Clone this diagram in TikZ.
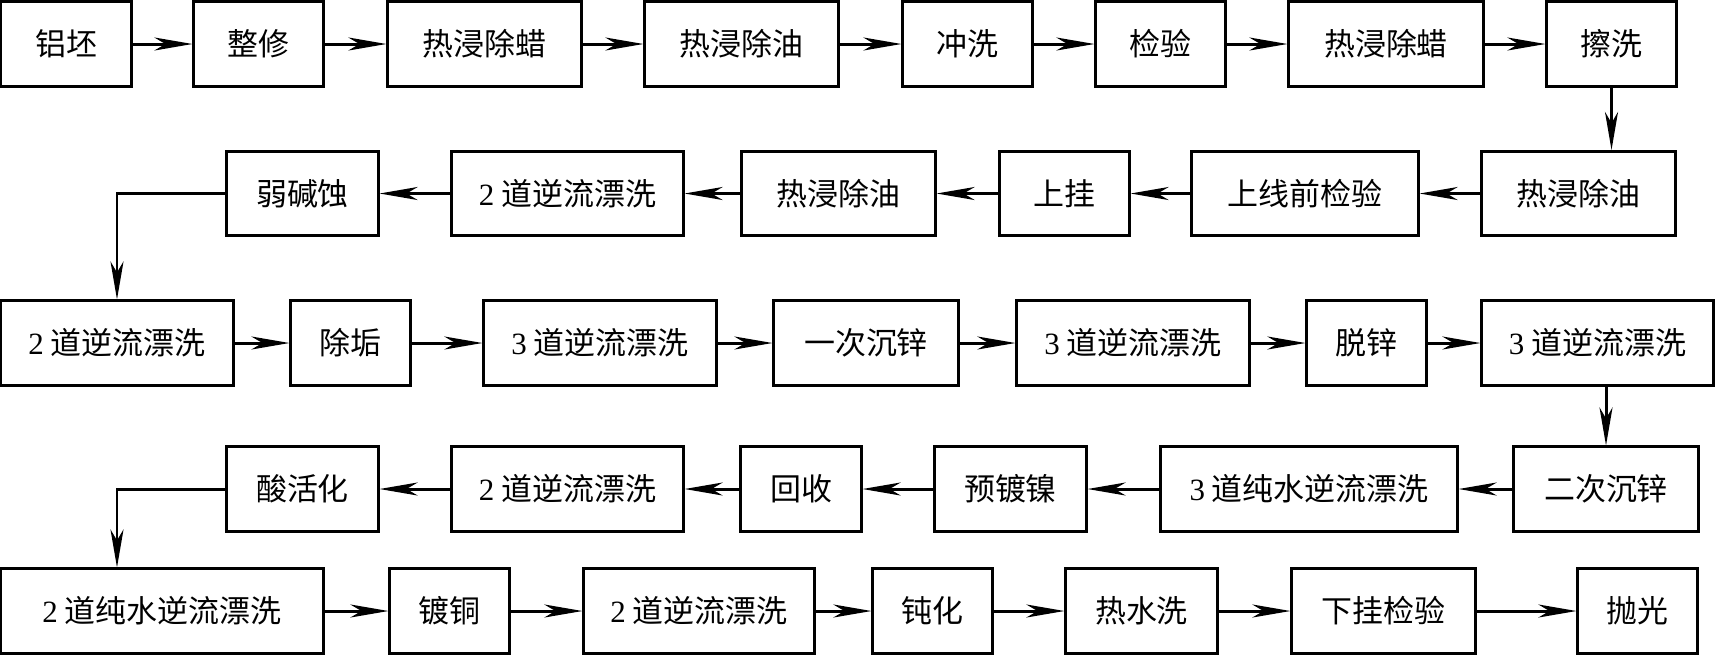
\documentclass[tikz,border=0pt]{standalone}
\usepackage{fontspec}
\setmainfont{Liberation Serif}
\newfontfamily\cjk{Noto Sans CJK SC}
\usetikzlibrary{arrows.meta}

\begin{document}
\begin{tikzpicture}[x=0.01cm,y=-0.01cm,
  box/.style={draw,line width=0.85pt,minimum height=0.84cm,inner sep=0pt,
    font=\cjk\fontsize{8.8pt}{10pt}\selectfont},
  flow/.style={line width=0.85pt,-{Stealth[length=3.8mm,width=1.3mm,inset=1.1mm]}}]
  \useasboundingbox (0,0) rectangle (1715,654);
  % row 1
  \node[box,minimum width=1.30cm] (a1) at (66,44) {铝坯};
  \node[box,minimum width=1.29cm] (a2) at (258.5,44) {整修};
  \node[box,minimum width=1.93cm] (a3) at (484.5,44) {热浸除蜡};
  \node[box,minimum width=1.93cm] (a4) at (741.5,44) {热浸除油};
  \node[box,minimum width=1.29cm] (a5) at (967.5,44) {冲洗};
  \node[box,minimum width=1.29cm] (a6) at (1160.5,44) {检验};
  \node[box,minimum width=1.94cm] (a7) at (1386,44) {热浸除蜡};
  \node[box,minimum width=1.29cm] (a8) at (1611.5,44) {擦洗};
  % row 2
  \node[box,minimum width=1.93cm] (b6) at (1578.5,193.5) {热浸除油};
  \node[box,minimum width=2.26cm] (b5) at (1305,193.5) {上线前检验};
  \node[box,minimum width=1.29cm] (b4) at (1064.5,193.5) {上挂};
  \node[box,minimum width=1.93cm] (b3) at (838.5,193.5) {热浸除油};
  \node[box,minimum width=2.31cm] (b2) at (567.5,193.5) {\textrm{2} 道逆流漂洗};
  \node[box,minimum width=1.51cm] (b1) at (302.5,193.5) {弱碱蚀};
  % row 3
  \node[box,minimum width=2.32cm] (c1) at (117,343) {\textrm{2} 道逆流漂洗};
  \node[box,minimum width=1.19cm] (c2) at (350.5,343) {除垢};
  \node[box,minimum width=2.32cm] (c3) at (600,343) {\textrm{3} 道逆流漂洗};
  \node[box,minimum width=1.84cm] (c4) at (866,343) {一次沉锌};
  \node[box,minimum width=2.32cm] (c5) at (1133,343) {\textrm{3} 道逆流漂洗};
  \node[box,minimum width=1.19cm] (c6) at (1366.5,343) {脱锌};
  \node[box,minimum width=2.31cm] (c7) at (1597.5,343) {\textrm{3} 道逆流漂洗};
  % row 4
  \node[box,minimum width=1.84cm] (d6) at (1606,489) {二次沉锌};
  \node[box,minimum width=2.96cm] (d5) at (1309,489) {\textrm{3} 道纯水逆流漂洗};
  \node[box,minimum width=1.51cm] (d4) at (1010.5,489) {预镀镍};
  \node[box,minimum width=1.20cm] (d3) at (801,489) {回收};
  \node[box,minimum width=2.31cm] (d2) at (567.5,489) {\textrm{2} 道逆流漂洗};
  \node[box,minimum width=1.51cm] (d1) at (302.5,489) {酸活化};
  % row 5
  \node[box,minimum width=3.22cm] (e1) at (162,611) {\textrm{2} 道纯水逆流漂洗};
  \node[box,minimum width=1.19cm] (e2) at (449.5,611) {镀铜};
  \node[box,minimum width=2.30cm] (e3) at (699,611) {\textrm{2} 道逆流漂洗};
  \node[box,minimum width=1.19cm] (e4) at (932.5,611) {钝化};
  \node[box,minimum width=1.51cm] (e5) at (1141.5,611) {热水洗};
  \node[box,minimum width=1.83cm] (e6) at (1383.5,611) {下挂检验};
  \node[box,minimum width=1.19cm] (e7) at (1637.5,611) {抛光};
  % left to right
  \foreach \p/\q in {a1/a2,a2/a3,a3/a4,a4/a5,a5/a6,a6/a7,a7/a8,
                     c1/c2,c2/c3,c3/c4,c4/c5,c5/c6,c6/c7,
                     e1/e2,e2/e3,e3/e4,e4/e5,e5/e6,e6/e7}
    \draw[flow] (\p.east) -- (\q.west);
  % right to left
  \foreach \p/\q in {b6/b5,b5/b4,b4/b3,b3/b2,b2/b1,
                     d6/d5,d5/d4,d4/d3,d3/d2,d2/d1}
    \draw[flow] (\p.west) -- (\q.east);
  % turns
  \draw[flow] (a8.south) -- (a8.south |- b6.north);
  \draw[flow] (b1.west) -| (c1.north);
  \draw[flow] (d6.north |- c7.south) -- (d6.north);
  \draw[flow] (d1.west) -| (e1.north -| c1.north);
\end{tikzpicture}
\end{document}
